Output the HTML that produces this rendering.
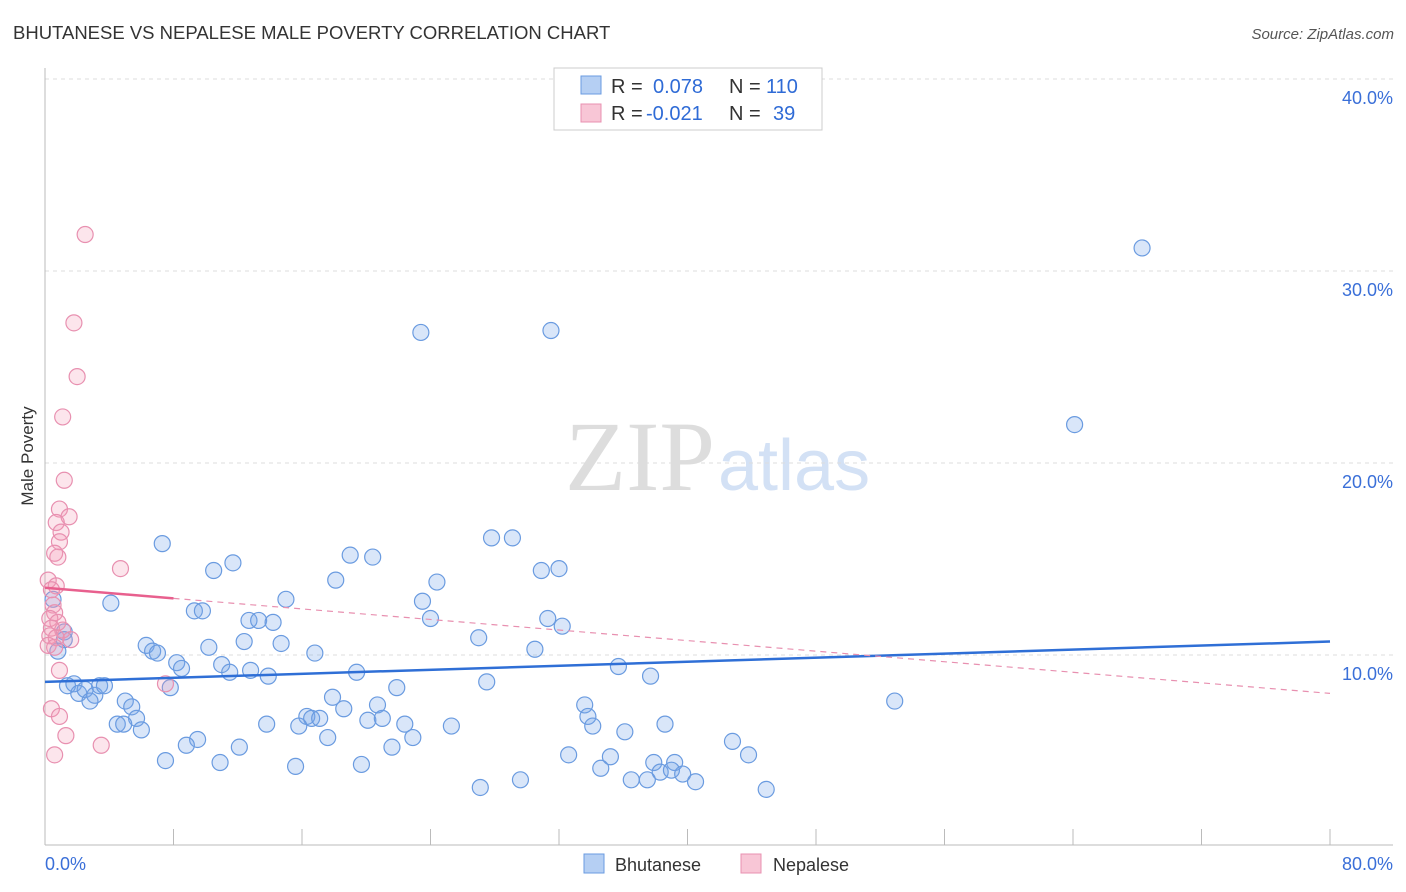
<!DOCTYPE html>
<html><head><meta charset="utf-8"><style>
body{margin:0;background:#fff;font-family:"Liberation Sans",sans-serif;}
#wrap{position:relative;width:1406px;height:892px;overflow:hidden;}
</style></head><body>
<div id="wrap">
<svg id="svg" width="1406" height="892" xmlns="http://www.w3.org/2000/svg">
<text x="13" y="39" font-size="18.5" fill="#333">BHUTANESE VS NEPALESE MALE POVERTY CORRELATION CHART</text>
<text x="1394" y="39" font-size="15" fill="#555" font-style="italic" text-anchor="end">Source: ZipAtlas.com</text>
<text transform="translate(33,456) rotate(-90)" font-size="17" fill="#333" text-anchor="middle">Male Poverty</text>
<text x="715" y="490" font-size="100" fill="#ddd" text-anchor="end" font-family="Liberation Serif,serif">ZIP</text>
<text x="718" y="490" font-size="72" fill="#d3e1f5">atlas</text>
<g id="grid"></g><g id="axes"></g><g id="lines"></g><g id="pts"></g>
<g>
<rect x="554" y="68" width="268" height="62" fill="#fff" stroke="#ccc"/>
<rect x="581" y="76" width="20" height="18" fill="#b5cff3" stroke="#6a9be0"/>
<rect x="581" y="104" width="20" height="18" fill="#f8c6d6" stroke="#e890b0"/>
<text y="93" font-size="20" fill="#333"><tspan x="611">R =</tspan><tspan x="653" fill="#2f6bd6">0.078</tspan><tspan x="729">N =</tspan><tspan x="766" fill="#2f6bd6">110</tspan></text>
<text y="120" font-size="20" fill="#333"><tspan x="611">R =</tspan><tspan x="646" fill="#2f6bd6">-0.021</tspan><tspan x="729">N =</tspan><tspan x="773" fill="#2f6bd6">39</tspan></text>
</g>
<g>
<rect x="584" y="854" width="20" height="19" fill="#b5cff3" stroke="#6a9be0"/>
<text x="615" y="871" font-size="18" fill="#333">Bhutanese</text>
<rect x="741" y="854" width="20" height="19" fill="#f8c6d6" stroke="#e890b0"/>
<text x="773" y="871" font-size="18" fill="#333">Nepalese</text>
</g>
</svg>
</div>
<script>
const blueX=[68.3,23.4,31.5,64.1,7.3,27.8,29.1,11.7,10.5,19.0,20.4,30.9,32.0,18.1,24.4,4.1,9.3,9.8,15.0,23.5,24.0,31.3,32.2,12.7,13.3,14.2,12.4,14.7,10.2,6.3,6.7,7.0,27.0,30.5,1.2,1.2,0.8,0.5,16.8,8.2,8.5,11.0,11.5,12.8,13.9,19.4,35.7,37.7,27.5,21.9,1.4,1.8,2.1,2.5,3.1,3.4,3.7,2.8,7.8,5.0,5.4,5.7,4.5,4.9,6.0,17.9,18.6,20.7,20.1,21.0,16.3,16.6,17.1,15.8,13.8,22.4,22.9,25.3,17.6,21.6,9.5,8.8,12.1,7.5,10.9,15.6,19.7,33.6,33.8,34.1,36.1,38.6,52.9,42.8,43.8,32.6,35.2,34.6,37.9,39.2,38.3,39.0,39.7,40.5,36.5,37.5,29.6,27.1,44.9];
const blueY=[31.2,26.8,26.9,22.0,15.8,16.1,16.1,14.8,14.4,15.2,15.1,14.4,14.5,13.9,13.8,12.7,12.3,12.3,12.9,12.8,11.9,11.9,11.5,11.8,11.8,11.7,10.7,10.6,10.4,10.5,10.2,10.1,10.9,10.3,11.2,10.8,10.2,12.9,10.1,9.6,9.3,9.5,9.1,9.2,8.9,9.1,9.4,8.9,8.6,8.3,8.4,8.5,8.0,8.2,7.9,8.4,8.4,7.6,8.3,7.6,7.3,6.7,6.4,6.4,6.1,7.8,7.2,7.4,6.6,6.7,6.8,6.7,6.7,6.3,6.4,6.4,5.7,6.3,5.7,5.2,5.6,5.3,5.2,4.5,4.4,4.2,4.3,7.4,6.8,6.3,6.0,6.4,7.6,5.5,4.8,4.8,4.7,4.1,4.4,4.4,3.9,4.0,3.8,3.4,3.5,3.5,3.5,3.1,3.0];
const pinkX=[2.5,1.8,2.0,1.1,1.2,0.9,1.5,0.7,1.0,0.9,0.6,0.8,4.7,0.2,0.7,0.4,0.5,0.6,0.3,0.8,0.4,1.1,0.3,0.7,1.6,0.2,0.6,0.9,7.5,0.4,0.9,1.3,3.5,0.6];
const pinkY=[31.9,27.3,24.5,22.4,19.1,17.6,17.2,16.9,16.4,15.9,15.3,15.1,14.5,13.9,13.6,13.4,12.6,12.2,11.9,11.7,11.4,11.3,11.0,10.9,10.8,10.5,10.4,9.2,8.5,7.2,6.8,5.8,5.3,4.8];
const blueTrend=[8.6,10.7];
const pinkTrend=[13.5,8.0];
const yTicks=[10,20,30,40];
const yTickLabels=["10.0%","20.0%","30.0%","40.0%"];
const xTicks=[0,8,16,24,32,40,48,56,64,72,80];
const NS="http://www.w3.org/2000/svg";
const X=v=>45+v/80*1285, Y=v=>847-v*19.2;
function mk(t,a,p){const e=document.createElementNS(NS,t);for(const k in a)e.setAttribute(k,a[k]);p.appendChild(e);return e;}
const grid=document.getElementById('grid'),axes=document.getElementById('axes'),lines=document.getElementById('lines'),pts=document.getElementById('pts');
yTicks.forEach((t,i)=>{
 const l=mk('line',{x1:45,x2:1393,y1:Y(t),y2:Y(t),stroke:'#ddd','stroke-dasharray':'4,4'},grid);
 
 
 const tx=mk('text',{x:1393,y:Y(t)+25,'text-anchor':'end','font-size':18,fill:'#3a6fd8'},axes);
 tx.textContent=yTickLabels[i];
 
 
});
const ax=mk('line',{x1:45,x2:1393,y1:845,y2:845,stroke:'#bbb'},axes);


const ay=mk('line',{x1:45,x2:45,y1:68,y2:845,stroke:'#bbb'},axes);


xTicks.forEach(t=>{const l=mk('line',{x1:X(t),x2:X(t),y1:829,y2:845,stroke:'#bbb'},axes);
 
 });
const x0=mk('text',{x:45,y:870,'font-size':18,fill:'#3a6fd8'},axes);x0.textContent='0.0%';


const x1=mk('text',{x:1393,y:870,'font-size':18,fill:'#3a6fd8','text-anchor':'end'},axes);x1.textContent='80.0%';


blueX.forEach((v,i)=>{const c=mk('circle',{cx:X(v),cy:Y(blueY[i]),r:8,fill:'rgba(120,165,235,0.28)',stroke:'#6a9be0','stroke-width':1.2},pts);
 
 });
pinkX.forEach((v,i)=>{const c=mk('circle',{cx:X(v),cy:Y(pinkY[i]),r:8,fill:'rgba(245,150,180,0.25)',stroke:'#e890b0','stroke-width':1.2},pts);
 
 });
const bl=mk('line',{x1:X(0),y1:Y(blueTrend[0]),x2:X(80),y2:Y(blueTrend[1]),stroke:'#2f6fd6','stroke-width':2.5},pts);


const pm=pinkTrend[0]+(pinkTrend[1]-pinkTrend[0])*8/80;
const pd=mk('line',{x1:X(8),y1:Y(pm),x2:X(80),y2:Y(pinkTrend[1]),stroke:'#e890b0','stroke-width':1.2,'stroke-dasharray':'6,5'},pts);


const ps=mk('line',{x1:X(0),y1:Y(pinkTrend[0]),x2:X(8),y2:Y(pm),stroke:'#e8608e','stroke-width':2.5},pts);


</script>
</body></html>
